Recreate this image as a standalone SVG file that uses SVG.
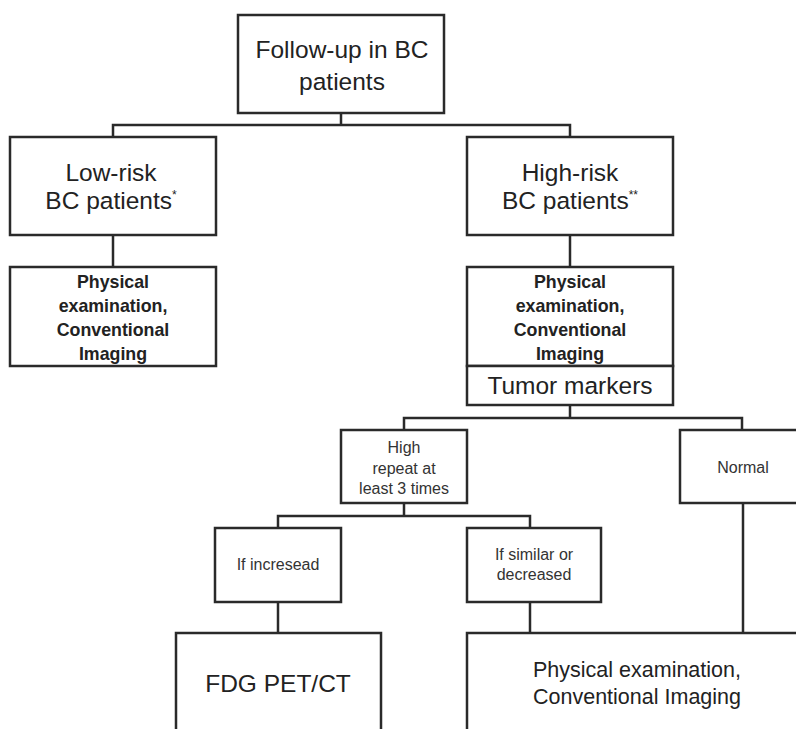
<svg xmlns="http://www.w3.org/2000/svg" width="796" height="729" viewBox="0 0 796 729">
<style>
.box{fill:#fff;stroke:#2a2a2a;stroke-width:2.5}
.ln{fill:none;stroke:#2a2a2a;stroke-width:2.5}
text{font-family:"Liberation Sans",Arial,sans-serif;fill:#222;text-anchor:middle}
.big{font-size:24.5px}
.bold{font-size:17.8px;font-weight:bold}
.sm{font-size:16px;fill:#333}
.mid{font-size:21.5px}
</style>
<rect width="796" height="729" fill="#fff"/>
<g id="connectors">
<path class="ln" d="M341,113V125M113,137V125H570V137"/>
<path class="ln" d="M113,235V267"/>
<path class="ln" d="M570,235V267"/>
<path class="ln" d="M570,405V418M404,430V418H742V430"/>
<path class="ln" d="M404,503V516M278,528V516H530V528"/>
<path class="ln" d="M278,602V633"/>
<path class="ln" d="M530,602V633"/>
<path class="ln" d="M743,503V633"/>
</g>
<g id="root">
<rect class="box" x="238" y="15" width="206" height="98"/>
<text class="big" x="342" y="58">Follow-up in BC</text>
<text class="big" x="342" y="90">patients</text>
</g>
<g id="low">
<rect class="box" x="10" y="137" width="206" height="98"/>
<text class="big" x="111" y="181">Low-risk</text>
<text class="big" x="111" y="209">BC patients<tspan font-size="12" dy="-10">*</tspan></text>
</g>
<g id="high">
<rect class="box" x="467" y="137" width="206" height="98"/>
<text class="big" x="570" y="181">High-risk</text>
<text class="big" x="570" y="209">BC patients<tspan font-size="12" dy="-10">**</tspan></text>
</g>
<g id="low-exam">
<rect class="box" x="10" y="267" width="206" height="99"/>
<text class="bold" x="113" y="288">Physical</text>
<text class="bold" x="113" y="312">examination,</text>
<text class="bold" x="113" y="336">Conventional</text>
<text class="bold" x="113" y="360">Imaging</text>
</g>
<g id="high-exam">
<rect class="box" x="467" y="267" width="206" height="99"/>
<text class="bold" x="570" y="288">Physical</text>
<text class="bold" x="570" y="312">examination,</text>
<text class="bold" x="570" y="336">Conventional</text>
<text class="bold" x="570" y="360">Imaging</text>
</g>
<g id="tumor">
<rect class="box" x="467" y="366" width="206" height="39"/>
<text class="big" x="570" y="394">Tumor markers</text>
</g>
<g id="high-tm">
<rect class="box" x="341" y="430" width="126" height="73"/>
<text class="sm" x="404" y="453">High</text>
<text class="sm" x="404" y="474">repeat at</text>
<text class="sm" x="404" y="494">least 3 times</text>
</g>
<g id="normal">
<rect class="box" x="680" y="430" width="130" height="73"/>
<text class="sm" x="743" y="473">Normal</text>
</g>
<g id="increased">
<rect class="box" x="215" y="528" width="126" height="74"/>
<text class="sm" x="278" y="570">If incresead</text>
</g>
<g id="similar">
<rect class="box" x="467" y="528" width="134" height="74"/>
<text class="sm" x="534" y="560">If similar or</text>
<text class="sm" x="534" y="580">decreased</text>
</g>
<g id="fdg">
<rect class="box" x="176" y="633" width="205" height="110"/>
<text class="big" x="278" y="692">FDG PET/CT</text>
</g>
<g id="followup">
<rect class="box" x="467" y="633" width="345" height="110"/>
<text class="mid" x="637" y="677">Physical examination,</text>
<text class="mid" x="637" y="704">Conventional Imaging</text>
</g>
</svg>
